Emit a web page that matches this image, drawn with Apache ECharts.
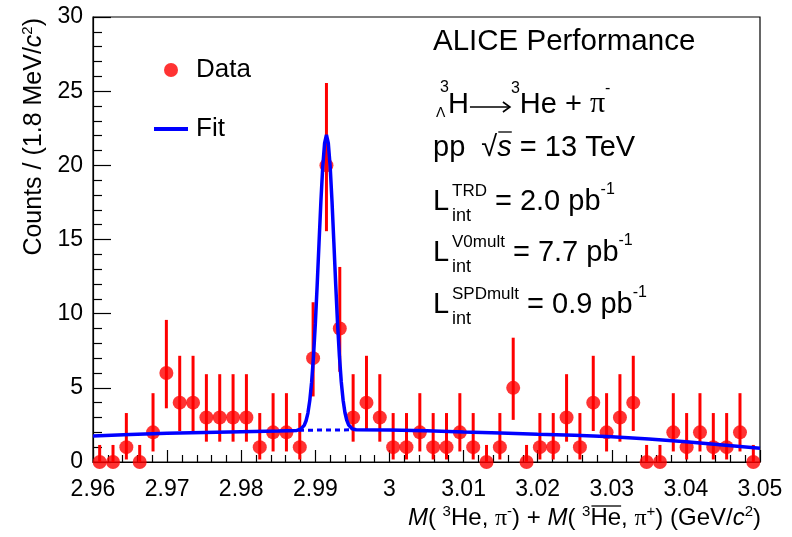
<!DOCTYPE html>
<html>
<head>
<meta charset="utf-8">
<script src="https://cdn.jsdelivr.net/npm/echarts@6/dist/echarts.min.js"></script>
<style>
  html, body { margin: 0; padding: 0; background: #fff; }
  #hypertriton { width: 792px; height: 537px; }
</style>
</head>
<body>
<div id="hypertriton"></div>
<script>
var FONT = "'Liberation Sans', Arial, Helvetica, sans-serif";
var SERIF = "'Liberation Serif', 'Times New Roman', serif";

// histogram: 50 bins of 1.8 MeV starting at 2.96 GeV
var histLow = 2.96;
var binWidth = 0.0018;
var counts = [0, 0, 1, 0, 2, 6, 4, 4, 3, 3, 3, 3, 1, 2, 2, 1, 7, 20, 9, 3,
              4, 3, 1, 1, 2, 1, 1, 2, 1, 0, 1, 5, 0, 1, 1, 3, 1, 4, 2, 3,
              4, 0, 0, 2, 1, 2, 1, 1, 2, 0];
// error bar ends (asymmetric)
var barLow = [0, 0, 0.17, 0, 0.71, 3.62, 2.09, 2.09, 1.37, 1.37,
              1.37, 1.37, 0.17, 0.71, 0.71, 0.17, 4.42, 15.56, 6.08, 1.37,
              2.09, 1.37, 0.17, 0.17, 0.71, 0.17, 0.17, 0.71, 0.17, 0,
              0.17, 2.84, 0, 0.17, 0.17, 1.37, 0.17, 2.09, 0.71, 1.37,
              2.09, 0, 0, 0.71, 0.17, 0.71, 0.17, 0.17, 0.71, 0];
var barHigh = [1.15, 1.15, 3.3, 1.15, 4.64, 9.58, 7.16, 7.16, 5.92, 5.92,
               5.92, 5.92, 3.3, 4.64, 4.64, 3.3, 10.77, 25.55, 13.15, 5.92,
               7.16, 5.92, 3.3, 3.3, 4.64, 3.3, 3.3, 4.64, 3.3, 1.15,
               3.3, 8.38, 1.15, 3.3, 3.3, 5.92, 3.3, 7.16, 4.64, 5.92,
               7.16, 1.15, 1.15, 4.64, 3.3, 4.64, 3.3, 3.3, 4.64, 1.15];

// fit curve (signal + background)
var fitX = [2.96, 2.965, 2.97, 2.975, 2.98, 2.985, 2.9875, 2.988, 2.9885, 2.98875,
            2.989, 2.98925, 2.9895, 2.98975, 2.99, 2.99025, 2.9905, 2.99075, 2.991, 2.99125,
            2.9915, 2.99175, 2.992, 2.99225, 2.9925, 2.99275, 2.993, 2.99325, 2.9935, 2.99375,
            2.994, 2.99425, 2.9945, 2.995, 2.9955, 3.0, 3.005, 3.01, 3.015, 3.02,
            3.025, 3.03, 3.035, 3.04, 3.045, 3.05];
var fitY = [1.75, 1.85, 1.93, 1.99, 2.04, 2.09, 2.13, 2.21, 2.47, 2.78,
            3.3, 4.14, 5.38, 7.11, 9.31, 11.94, 14.78, 17.56, 19.91, 21.49,
            22.05, 21.5, 19.93, 17.58, 14.8, 11.96, 9.33, 7.13, 5.4, 4.16,
            3.32, 2.8, 2.49, 2.23, 2.17, 2.16, 2.1, 2.02, 1.95, 1.87,
            1.8, 1.7, 1.55, 1.36, 1.15, 0.92];
// background under the peak (dashed)
var bkgX = [2.9878, 2.9952];
var bkgY = [2.14, 2.17];

// axes
var xMin = 2.96, xMax = 3.05, xStep = 0.01;
var yMin = 0, yMax = 30, yStep = 5;

var points = counts.map(function (c, i) { return [histLow + binWidth * (i + 0.5), c]; });
var bars = counts.map(function (c, i) { return [histLow + binWidth * (i + 0.5), barLow[i], barHigh[i]]; });
var fit = fitX.map(function (x, i) { return [x, fitY[i]]; });
var bkg = bkgX.map(function (x, i) { return [x, bkgY[i]]; });

// --- little text layout helper for sub/superscripts
var ctx = document.createElement('canvas').getContext('2d');
function fontOf(p) { return (p.it ? 'italic ' : '') + p.s + 'px ' + (p.ff || FONT); }
function row(x, base, pieces, align) {
  var total = 0;
  pieces.forEach(function (p) {
    p.s = p.s || 24;
    ctx.font = fontOf(p);
    p.w = p.gap != null ? p.gap : ctx.measureText(p.t).width;
    total += p.w;
  });
  if (align === 'right') x -= total;
  var els = [];
  pieces.forEach(function (p) {
    if (p.arrow) {
      var ay = base - 8;
      els.push({ type: 'line', shape: { x1: x + 1, y1: ay, x2: x + p.w - 2, y2: ay },
                 style: { stroke: '#000', lineWidth: 1.6 } });
      els.push({ type: 'polyline', shape: { points: [[x + p.w - 8, ay - 5], [x + p.w - 1, ay], [x + p.w - 8, ay + 5]] },
                 style: { stroke: '#000', lineWidth: 1.6, fill: null } });
    } else {
      els.push({
        type: 'text', x: x, y: base + (p.dy || 0) - 0.35 * p.s,
        style: { text: p.t, font: fontOf(p), fill: '#000',
                 textAlign: 'left', align: 'left', textVerticalAlign: 'middle', verticalAlign: 'middle' }
      });
    }
    if (p.over) {
      els.push({ type: 'line', shape: { x1: x + 1, y1: base + p.over, x2: x + p.w, y2: base + p.over },
                 style: { stroke: '#000', lineWidth: 1.3 } });
    }
    x += p.w;
  });
  els.end = x;
  return els;
}
function lumi(base, label, value) {
  var L = row(433, base, [{ t: 'L', s: 29 }]);
  var up = row(452, base - 15, [{ t: label, s: 17 }]);
  var dn = row(452, base + 10, [{ t: 'int', s: 18 }]);
  var rest = row(Math.max(up.end, dn.end) + 8, base,
    [{ t: '= ' + value + ' pb', s: 29 }, { t: '-1', s: 16, dy: -17 }]);
  return L.concat(up, dn, rest);
}

var texts = [];
texts = texts.concat(row(433, 52, [{ t: 'ALICE Performance', s: 29.5 }]));
texts = texts.concat(row(440, 93, [{ t: '3', s: 16 }]));
texts = texts.concat(row(436, 118, [{ t: '\u039b', s: 14 }]));
texts = texts.concat(row(448, 115, [
  { t: 'H', s: 29 }, { t: '', arrow: true, gap: 42 }, { t: '3', s: 16, dy: -21 },
  { t: 'He + ', s: 29 }, { t: '\u03c0', s: 30, ff: SERIF }, { t: '-', s: 16, dy: -21 }
]));
texts = texts.concat(row(433, 158, [
  { t: 'pp  \u221a', s: 29 }, { t: 's', s: 29, it: true, over: -26 }, { t: ' = 13 TeV', s: 29 }
]));
texts = texts.concat(lumi(212, 'TRD', '2.0'));
texts = texts.concat(lumi(263, 'V0mult', '7.7'));
texts = texts.concat(lumi(315, 'SPDmult', '0.9'));

// x axis title
texts = texts.concat(row(761, 527, [
  { t: 'M', it: true, s: 24 }, { t: '( ', s: 24 }, { t: '3', s: 15, dy: -10 }, { t: 'He, ', s: 24 },
  { t: '\u03c0', s: 24, ff: SERIF }, { t: '-', s: 15, dy: -10 }, { t: ') + ', s: 24 },
  { t: 'M', it: true, s: 24 }, { t: '( ', s: 24 }, { t: '3', s: 15, dy: -10 },
  { t: 'He', s: 24, over: -21 }, { t: ', ', s: 24 }, { t: '\u03c0', s: 24, ff: SERIF },
  { t: '+', s: 15, dy: -10 }, { t: ') (GeV/', s: 24 }, { t: 'c', it: true, s: 24 },
  { t: '2', s: 15, dy: -10 }, { t: ')', s: 24 }
], 'right'));

// y axis title, rotated
var yTitle = {
  type: 'group', x: 43, y: 18, rotation: Math.PI / 2,
  children: row(0, 0, [
    { t: 'Counts / (1.8 MeV/', s: 25 }, { t: 'c', it: true, s: 25 },
    { t: '2', s: 15, dy: -10 }, { t: ')', s: 25 }
  ], 'right')
};
texts.push(yTitle);

var chartDom = document.getElementById('hypertriton');
var myChart = echarts.init(chartDom);

var option = {
  animation: false,
  backgroundColor: '#fff',
  grid: {
    left: 93, right: 32, top: 17, bottom: 75,
    show: true, borderColor: '#000', borderWidth: 1.2,
    containLabel: false, outerBoundsMode: 'none'
  },
  legend: {
    left: 154, top: 57, orient: 'vertical', padding: 0,
    itemWidth: 34, itemHeight: 14, itemGap: 33,
    textStyle: { fontFamily: FONT, fontSize: 26, color: '#000', padding: [0, 0, 0, 3] },
    data: [
      { name: 'Data', icon: 'circle' },
      { name: 'Fit', icon: 'path://M0,0 L34,0 L34,4 L0,4 Z', itemStyle: { color: '#0000ff' } }
    ]
  },
  xAxis: {
    type: 'value', min: xMin, max: xMax, interval: xStep,
    axisLine: { onZero: false, lineStyle: { color: '#000', width: 1.2 } },
    axisTick: { inside: true, length: 12, lineStyle: { color: '#000', width: 1.2 } },
    minorTick: { show: true, splitNumber: 5, length: 7, lineStyle: { color: '#000', width: 1.2 } },
    splitLine: { show: false },
    axisLabel: {
      margin: 16, color: '#000', fontFamily: FONT, fontSize: 23,
      formatter: function (v) { return String(+v.toFixed(3)); }
    }
  },
  yAxis: {
    type: 'value', min: yMin, max: yMax, interval: yStep,
    axisLine: { show: true, lineStyle: { color: '#000', width: 1.2 } },
    axisTick: { show: true, inside: true, length: 18, lineStyle: { color: '#000', width: 1.2 } },
    minorTick: { show: true, splitNumber: 5, length: 9, lineStyle: { color: '#000', width: 1.2 } },
    splitLine: { show: false },
    axisLabel: { margin: 10, color: '#000', fontFamily: FONT, fontSize: 23 }
  },
  series: [
    {
      name: 'errors',
      type: 'custom',
      z: 2,
      data: bars,
      encode: { x: 0, y: [1, 2] },
      renderItem: function (params, api) {
        var lo = api.coord([api.value(0), api.value(1)]);
        var hi = api.coord([api.value(0), api.value(2)]);
        return {
          type: 'line',
          shape: { x1: lo[0], y1: lo[1], x2: hi[0], y2: hi[1] },
          style: { stroke: '#ff0000', lineWidth: 3 }
        };
      }
    },
    {
      name: 'Data',
      type: 'scatter',
      z: 3,
      symbol: 'circle',
      symbolSize: 14,
      itemStyle: { color: '#ff0000' },
      data: points
    },
    {
      name: 'bkg',
      type: 'line',
      z: 4,
      symbol: 'none',
      lineStyle: { color: '#0000ff', width: 3, type: [5, 4] },
      data: bkg
    },
    {
      name: 'Fit',
      type: 'line',
      z: 5,
      symbol: 'none',
      smooth: false,
      itemStyle: { color: '#0000ff' },
      lineStyle: { color: '#0000ff', width: 3.5 },
      data: fit
    }
  ],
  graphic: { elements: texts }
};

option && myChart.setOption(option);
</script>
</body>
</html>
